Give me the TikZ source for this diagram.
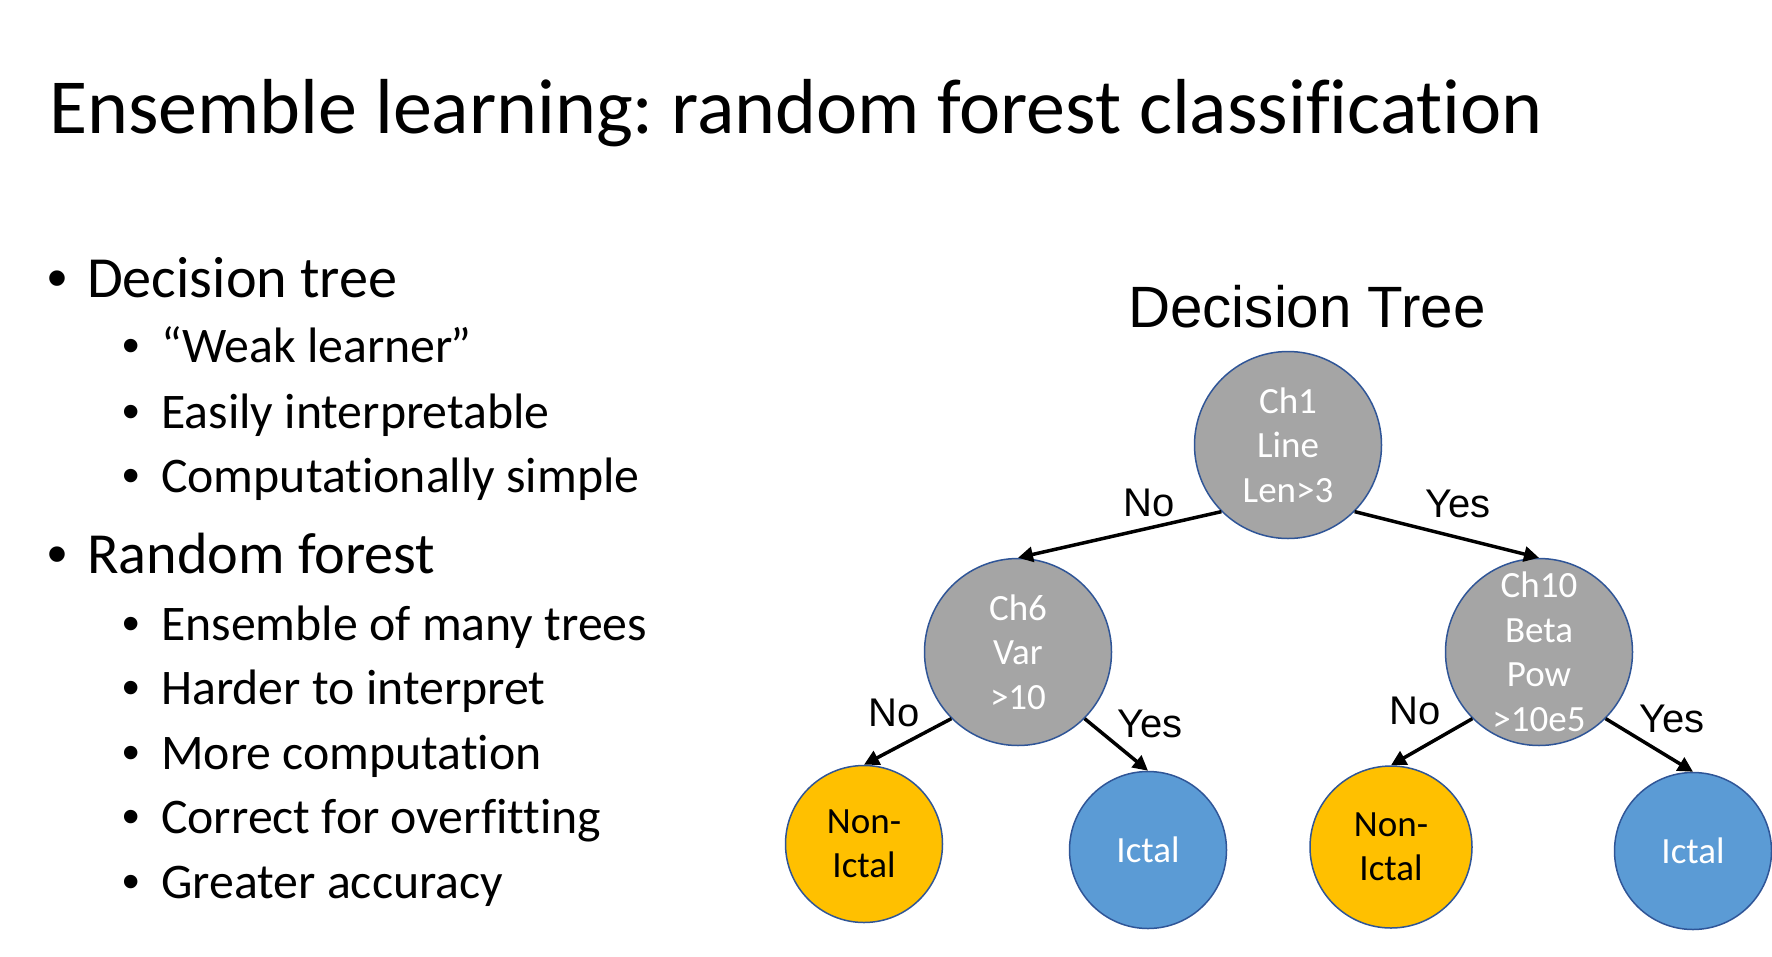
\documentclass[tikz,border=0pt]{standalone}
\usepackage{fontspec}
\setmainfont{Carlito}[Ligatures={TeX,CommonOff}]
\newfontfamily\arialf{Liberation Sans}
\usetikzlibrary{arrows.meta}
\definecolor{nodegray}{HTML}{A5A5A5}
\definecolor{nodeborder}{HTML}{2F5597}
\definecolor{leafyellow}{HTML}{FFC000}
\definecolor{leafblue}{HTML}{5B9BD5}
\frenchspacing
\begin{document}
\begin{tikzpicture}[x=1pt,y=-1pt,
  treenode/.style={circle, draw=nodeborder, line width=1.5pt, inner sep=0pt, align=center, font=\fontsize{37}{44.5}\selectfont},
  split/.style={treenode, fill=nodegray, text=white, minimum size=187pt},
  leafn/.style={treenode, fill=leafyellow, text=black, minimum size=157pt},
  leafi/.style={treenode, fill=leafblue, text=white, minimum size=157pt},
  edge/.style={line width=3.5pt, -{Triangle[length=15pt,width=15pt]}},
  elabel/.style={font=\arialf\fontsize{40}{44}\selectfont, inner sep=0pt},
  titletext/.style={anchor=base west, font=\fontsize{78}{90}\selectfont, inner sep=0pt},
  lvlone/.style={anchor=base west, font=\fontsize{58.2}{68}\selectfont, inner sep=0pt},
  lvltwo/.style={anchor=base west, font=\fontsize{49.8}{60}\selectfont, inner sep=0pt},
  bulone/.style={anchor=base west, font=\arialf\fontsize{57}{68}\selectfont, inner sep=0pt},
  bultwo/.style={anchor=base west, font=\arialf\fontsize{49.6}{60}\selectfont, inner sep=0pt},
]
\useasboundingbox[fill=white] (0,0) rectangle (1772,956);

% title
\node[titletext] (title) at (49,133) {Ensemble learning: random forest classification};

% bullets
\node[bulone] (b1) at (47,297) {•};
\node[lvlone] (t1) at (87,297) {Decision tree};
\node[bultwo] (b11) at (122,362) {•};
\node[lvltwo] (t11) at (161,362) {“Weak learner\kern-0.06em”};
\node[bultwo] (b12) at (122,428) {•};
\node[lvltwo] (t12) at (161,428) {Easily interpretable};
\node[bultwo] (b13) at (122,492) {•};
\node[lvltwo] (t13) at (161,492) {Computationally simple};
\node[bulone] (b2) at (47,573) {•};
\node[lvlone] (t2) at (87,573) {Random forest};
\node[bultwo] (b21) at (122,640) {•};
\node[lvltwo] (t21) at (161,640) {Ensemble of many trees};
\node[bultwo] (b22) at (122,704.5) {•};
\node[lvltwo] (t22) at (161,704.5) {Harder to interpret};
\node[bultwo] (b23) at (122,769) {•};
\node[lvltwo] (t23) at (161,769) {More computation};
\node[bultwo] (b24) at (122,833) {•};
\node[lvltwo] (t24) at (161,833) {Correct for overfitting};
\node[bultwo] (b25) at (122,898) {•};
\node[lvltwo] (t25) at (161,898) {Greater accuracy};

% heading
\node[anchor=base, inner sep=0pt, font=\arialf\fontsize{58.3}{68}\selectfont] (dt) at (1307,327) {Decision Tree};

% tree nodes
\node[split] (root) at (1288,445) {Ch1\\Line\\Len>3};
\node[split] (ch6) at (1018,652) {Ch6\\Var\\>10};
\node[split] (ch10) at (1539,652) {Ch10\\Beta\\Pow\\>10e5};
\node[leafn] (nl) at (864,844) {Non-\\Ictal};
\node[leafi] (il) at (1148,850) {Ictal};
\node[leafn, minimum size=162pt] (nr) at (1391,847) {Non-\\Ictal};
\node[leafi] (ir) at (1693,851) {Ictal};

% connectors
\draw[edge] (root.south west) -- (ch6.north);
\draw[edge] (root.south east) -- (ch10.north);
\draw[edge] (ch6.south west) -- (nl.north);
\draw[edge] (ch6.south east) -- (il.north);
\draw[edge] (ch10.south west) -- (nr.north);
\draw[edge] (ch10.south east) -- (ir.north);

% edge labels
\node[elabel] (l1) at (1149,503) {No};
\node[elabel] (l2) at (1458,504) {Yes};
\node[elabel] (l3) at (894,713) {No};
\node[elabel] (l4) at (1150,724) {Yes};
\node[elabel] (l5) at (1415,711) {No};
\node[elabel] (l6) at (1672,719) {Yes};
\end{tikzpicture}
\end{document}
